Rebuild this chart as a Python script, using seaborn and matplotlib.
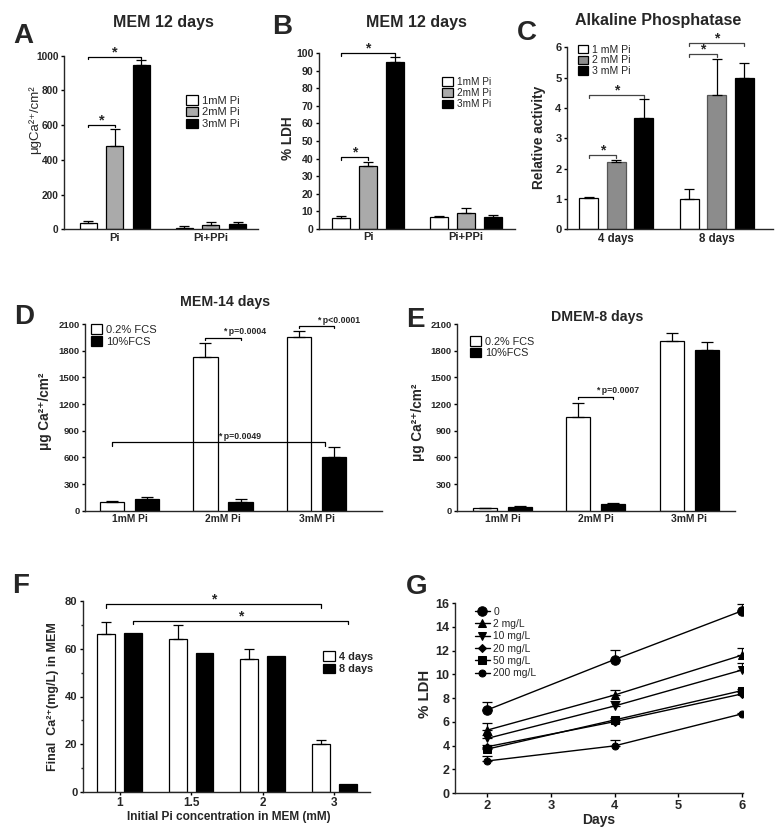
import numpy as np
import pandas as pd
import seaborn as sns
import matplotlib.pyplot as plt
from matplotlib.ticker import MultipleLocator

# A: calcium deposition, MEM 12 days
a_groups = ['Pi', 'Pi+PPi']
a_levels = ['1mM Pi', '2mM Pi', '3mM Pi']
a_means = [[34, 10], [480, 23], [946, 29]]
a_errs = [[13, 9], [96, 17], [27, 15]]

# B: LDH, MEM 12 days
b_groups = ['Pi', 'Pi+PPi']
b_levels = ['1mM Pi', '2mM Pi', '3mM Pi']
b_means = [[6.3, 6.8], [35.8, 8.9], [94.9, 6.8]]
b_errs = [[1.3, 0.5], [2.3, 2.9], [2.6, 1.0]]

# C: alkaline phosphatase
c_groups = ['4 days', '8 days']
c_levels = ['1 mM Pi', '2 mM Pi', '3 mM Pi']
c_means = [[1.02, 0.99], [2.23, 4.43], [3.66, 5.0]]
c_errs = [[0.06, 0.33], [0.04, 1.17], [0.63, 0.49]]

# D: MEM-14 days
d_groups = ['1mM Pi', '2mM Pi', '3mM Pi']
d_levels = ['0.2% FCS', '10%FCS']
d_means = [[94, 1725, 1957], [127, 101, 600]]
d_errs = [[12, 157, 64], [23, 34, 120]]

# E: DMEM-8 days
e_groups = ['1mM Pi', '2mM Pi', '3mM Pi']
e_levels = ['0.2% FCS', '10%FCS']
e_means = [[26, 1057, 1912], [45, 75, 1807]]
e_errs = [[8, 158, 83], [6, 12, 87]]

# F: final calcium in medium
f_groups = ['1', '1.5', '2', '3']
f_levels = ['4 days', '8 days']
f_means = [[66.0, 63.9, 55.5, 20.0], [66.6, 58.4, 56.9, 3.5]]
f_errs = [[5.0, 5.9, 4.5, 1.7], [0, 0, 0, 0]]

# G: LDH over time
g_days = [2, 4, 6]
g_labels = ['0', '2 mg/L', '10 mg/L', '20 mg/L', '50 mg/L', '200 mg/L']
g_means = [[7.0, 11.24, 15.33], [5.3, 8.25, 11.6], [4.6, 7.33, 10.35],
           [3.9, 6.01, 8.34], [3.7, 6.15, 8.62], [2.7, 3.97, 6.66]]
g_errs = [[0.68, 0.8, 0.55], [0.58, 0.42, 0.65], [0.25, 0.45, 0.6],
          [0.12, 0.12, 0.15], [0.12, 0.15, 0.15], [0.4, 0.5, 0.1]]

sns.set_style('ticks')
plt.rcParams['font.family'] = ['Liberation Sans', 'DejaVu Sans']
plt.rcParams['font.weight'] = 'bold'
plt.rcParams['axes.labelweight'] = 'bold'
plt.rcParams['axes.linewidth'] = 1.0

W, H = 778, 838
fig = plt.figure(figsize=(W / 100, H / 100), dpi=100)


def box(l, t, r, b):
    return [l / W, 1 - b / H, (r - l) / W, (b - t) / H]


def bar_panel(ax, groups, levels, means, errs, colors, width, gap, capsize=3.5):
    rows = []
    for lev, mrow in zip(levels, means):
        for grp, m in zip(groups, mrow):
            rows.append((grp, lev, m))
    df = pd.DataFrame(rows, columns=['group', 'level', 'value'])
    sns.barplot(data=df, x='group', y='value', hue='level', order=groups,
                hue_order=levels, palette=colors, edgecolor='black', linewidth=0.9,
                width=width, gap=gap, errorbar=None, ax=ax)
    centers = []
    for cont, erow in zip(ax.containers, errs):
        xs = np.array([p.get_x() + p.get_width() / 2 for p in cont])
        ys = np.array([p.get_height() for p in cont])
        erow = np.array(erow, dtype=float)
        keep = erow > 0
        if keep.any():
            ax.errorbar(xs[keep], ys[keep], yerr=[np.zeros(keep.sum()), erow[keep]],
                        fmt='none', ecolor='black', elinewidth=0.9, capsize=capsize,
                        capthick=0.9, zorder=3)
        centers.append(xs)
    return centers


def style(ax, ysize, xsize):
    sns.despine(ax=ax)
    ax.tick_params(axis='y', labelsize=ysize, width=1, length=2.5, pad=1.5, color='black')
    ax.tick_params(axis='x', labelsize=xsize, width=1, length=0, pad=2.5, color='black')
    ax.set_xlabel('')
    ax.set_ylabel('')


def legend(ax, x, y, fs, weight='normal', hl=1.1, hh=0.95, ls=0.12):
    h, l = ax.get_legend_handles_labels()
    ax.legend(h, l, loc='upper left', bbox_to_anchor=(x, y), frameon=False,
              prop={'size': fs, 'weight': weight}, borderpad=0, borderaxespad=0,
              handlelength=hl, handleheight=hh, handletextpad=0.35, labelspacing=ls)


def bracket(ax, x1, x2, y, drop, text, fs, color='black', tx=None, ha='center', dy=0.5):
    ax.plot([x1, x1, x2, x2], [y - drop, y, y, y - drop], color=color, lw=0.9,
            clip_on=False, zorder=4)
    ax.annotate(text, xy=((x1 + x2) / 2 if tx is None else tx, y), xytext=(0, dy),
                textcoords='offset points', ha=ha, va='baseline', fontsize=fs,
                fontweight='bold', annotation_clip=False)


def ylab(ax, text, x, y, fs, weight='bold'):
    ax.set_ylabel(text, fontsize=fs, fontweight=weight)
    ax.yaxis.set_label_coords(x, y)
    ax.yaxis.label.set_va('center')


# ---- A
ax = fig.add_axes(box(64, 55.7, 258, 229.3))
cA = bar_panel(ax, a_groups, a_levels, a_means, a_errs, ['white', '#aaaaaa', 'black'], 0.83, 0.36)
ax.set_xlim(-0.53, 1.49)
ax.set_ylim(0, 1000)
ax.yaxis.set_major_locator(MultipleLocator(200))
style(ax, 7.3, 8)
ylab(ax, 'μgCa²⁺/cm²', -0.15, 0.63, 9.5, 'normal')
legend(ax, 0.629, 0.774, 8)
bracket(ax, cA[0][0], cA[2][0], 994, 15, '*', 10.5)
bracket(ax, cA[0][0], cA[1][0], 601, 14, '*', 10.5)

# ---- B
ax = fig.add_axes(box(319, 53, 515, 229))
cB = bar_panel(ax, b_groups, b_levels, b_means, b_errs, ['white', '#aaaaaa', 'black'], 0.83, 0.31)
ax.set_xlim(-0.5, 1.5)
ax.set_ylim(0, 100)
ax.yaxis.set_major_locator(MultipleLocator(10))
style(ax, 7.6, 8)
ylab(ax, '% LDH', -0.158, 0.517, 9.8)
legend(ax, 0.628, 0.864, 7.2)
bracket(ax, cB[0][0], cB[2][0], 100, 1.5, '*', 10)
bracket(ax, cB[0][0], cB[1][0], 40.9, 1.6, '*', 10)

# ---- C
ax = fig.add_axes(box(567, 47.3, 773, 229.3))
cC = bar_panel(ax, c_groups, c_levels, c_means, c_errs, ['white', '#8c8c8c', 'black'], 0.82, 0.31)
for p in ax.containers[1]:
    p.set_edgecolor('#555555')
ax.set_xlim(-0.49, 1.56)
ax.set_ylim(0, 6)
ax.yaxis.set_major_locator(MultipleLocator(1))
style(ax, 8, 8.3)
ylab(ax, 'Relative activity', -0.136, 0.507, 9.8)
legend(ax, 0.053, 1.013, 7.6, hl=1.0, hh=0.85, ls=0.05)
gc = '#444444'
bracket(ax, cC[0][0], cC[1][0], 2.45, 0.09, '*', 10, gc)
bracket(ax, cC[0][0], cC[2][0], 4.43, 0.09, '*', 10, gc)
bracket(ax, cC[0][1], cC[1][1], 5.77, 0.1, '*', 10, gc)
bracket(ax, cC[0][1], cC[2][1], 6.15, 0.1, '*', 10, gc)

# ---- D
ax = fig.add_axes(box(85, 324, 382, 510.7))
cD = bar_panel(ax, d_groups, d_levels, d_means, d_errs, ['white', 'black'], 0.75, 0.31, 4)
ax.set_xlim(-0.476, 2.70)
ax.set_ylim(0, 2100)
ax.yaxis.set_major_locator(MultipleLocator(300))
style(ax, 6.8, 7.4)
ylab(ax, 'μg Ca²⁺/cm²', -0.135, 0.53, 9.8)
legend(ax, 0.02, 1.0, 8, hl=1.0, hh=1.0, ls=0.1)
m = (cD[0][1] + cD[1][1]) / 2
bracket(ax, cD[0][1], cD[1][1], 1946, 26, '* p=0.0004', 6.3, tx=m, ha='left', dy=2.5)
m = (cD[0][2] + cD[1][2]) / 2
bracket(ax, cD[0][2], cD[1][2], 2077, 26, '* p<0.0001', 6.3, tx=m, ha='left', dy=2.5)
x2 = cD[1][2] - 0.1
m = (cD[0][0] + x2) / 2
bracket(ax, cD[0][0], x2, 769, 45, '* p=0.0049', 6.3, tx=m, ha='left', dy=2.5)

# ---- E
ax = fig.add_axes(box(457, 324, 735, 510.7))
cE = bar_panel(ax, e_groups, e_levels, e_means, e_errs, ['white', 'black'], 0.75, 0.31, 4)
ax.set_xlim(-0.488, 2.49)
ax.set_ylim(0, 2100)
ax.yaxis.set_major_locator(MultipleLocator(300))
style(ax, 6.8, 7.4)
ylab(ax, 'μg Ca²⁺/cm²', -0.14, 0.476, 9.8)
legend(ax, 0.047, 0.936, 7.8, hl=1.0, hh=1.0, ls=0.1)
m = (cE[0][1] + cE[1][1]) / 2
bracket(ax, cE[0][1], cE[1][1], 1282, 30, '* p=0.0007', 6.3, tx=m, ha='left', dy=2.5)

# ---- F
ax = fig.add_axes(box(83, 601, 370, 792))
cF = bar_panel(ax, f_groups, f_levels, f_means, f_errs, ['white', 'black'], 0.75, 0.33)
ax.set_xlim(-0.51, 3.5)
ax.set_ylim(0, 80)
ax.yaxis.set_major_locator(MultipleLocator(20))
ax.yaxis.set_minor_locator(MultipleLocator(10))
style(ax, 8, 8.5)
ax.tick_params(axis='x', length=2, width=1, pad=1.5)
ax.tick_params(axis='y', which='minor', length=1.8, width=1)
ylab(ax, 'Final  Ca²⁺(mg/L) in MEM', -0.105, 0.50, 9)
ax.set_xlabel('Initial Pi concentration in MEM (mM)', fontsize=8.6)
ax.xaxis.set_label_coords(0.507, -0.131)
ax.xaxis.label.set_va('center')
legend(ax, 0.836, 0.738, 7.8, weight='bold', hl=1.1, hh=1.0, ls=0.2)
bracket(ax, cF[0][0], cF[0][3], 78.6, 1.4, '*', 10)
bracket(ax, cF[1][0], cF[1][3], 71.7, 1.2, '*', 10)

# ---- G
ax = fig.add_axes(box(455, 603, 743, 793))
g_markers = ['o', '^', 'v', 'D', 's', 'o']
g_sizes = [6.8, 6.3, 6.3, 4.5, 6.0, 5.0]
for lab, mrow, erow, mk, ms in zip(g_labels, g_means, g_errs, g_markers, g_sizes):
    sns.lineplot(x=g_days, y=mrow, marker=mk, markersize=ms, color='black',
                 markeredgecolor='black', linewidth=1, label=lab, ax=ax)
    ax.errorbar(g_days, mrow, yerr=[np.zeros(len(erow)), erow], fmt='none',
                ecolor='black', elinewidth=0.9, capsize=3.5, capthick=0.9)
ax.set_xlim(1.49, 6.02)
ax.set_ylim(0, 16)
ax.xaxis.set_major_locator(MultipleLocator(1))
ax.yaxis.set_major_locator(MultipleLocator(2))
style(ax, 9, 9.3)
ax.tick_params(axis='x', length=3, width=1, pad=2)
ylab(ax, '% LDH', -0.104, 0.52, 10.8)
ax.set_xlabel('Days', fontsize=10)
ax.xaxis.set_label_coords(0.5, -0.142)
ax.xaxis.label.set_va('center')
legend(ax, 0.07, 0.98, 7.4, hl=1.4, hh=0.7, ls=0.22)

# titles and panel letters
for txt, x, y, fs in [('MEM 12 days', 163, 22, 11.5), ('MEM 12 days', 416, 22, 11.5),
                      ('Alkaline Phosphatase', 658, 21, 11.5),
                      ('MEM-14 days', 225, 302, 10.2), ('DMEM-8 days', 597, 317, 10.2)]:
    fig.text(x / W, 1 - y / H, txt, ha='center', va='center', fontsize=fs, fontweight='bold')
for txt, x, y in [('A', 23, 36), ('B', 282, 27), ('C', 527, 33), ('D', 24, 317),
                  ('E', 415, 320), ('F', 21, 586), ('G', 417, 587)]:
    fig.text(x / W, 1 - y / H, txt, ha='center', va='center', fontsize=20, fontweight='bold')

fig.savefig('out.png', dpi=100)
